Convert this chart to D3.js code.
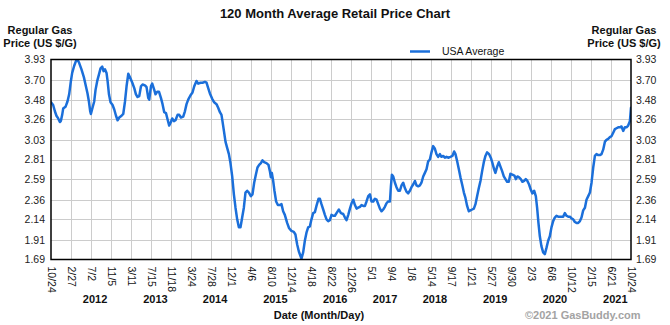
<!DOCTYPE html>
<html>
<head>
<meta charset="utf-8">
<script src="https://cdn.jsdelivr.net/npm/d3@7"></script>
<style>
  html, body { margin: 0; padding: 0; background: #fff; }
  svg { display: block; font-family: "Liberation Sans", Arial, sans-serif; }
</style>
</head>
<body>
<svg id="chart" width="670" height="325"></svg>
<script>
// ---------------- DATA ----------------
const chartTitle = "120 Month Average Retail Price Chart";
const seriesName = "USA Average";
const yAxisTitle = ["Regular Gas", "Price (US $/G)"];
const xAxisTitle = "Date (Month/Day)";
const credit = "\u00A92021 GasBuddy.com";

const yTickLabels = ["1.69","1.91","2.14","2.36","2.59","2.81","3.03","3.26","3.48","3.70","3.93"];
const xTickDates = ["2011-10-24","2012-02-27","2012-07-02","2012-11-05","2013-03-11","2013-07-15","2013-11-18",
  "2014-03-24","2014-07-28","2014-12-01","2015-04-06","2015-08-10","2015-12-14","2016-04-18","2016-08-22",
  "2016-12-26","2017-05-01","2017-09-04","2018-01-08","2018-05-14","2018-09-17","2019-01-21","2019-05-27",
  "2019-09-30","2020-02-03","2020-06-08","2020-10-12","2021-02-15","2021-06-21","2021-10-24"];
const yearLabels = ["2012","2013","2014","2015","2016","2017","2018","2019","2020","2021"];
const yearLabelAt = [2012.57,2013.61,2014.64,2015.68,2016.71,2017.57,2018.43,2019.47,2020.50,2021.54];

// time of each reading, as decimal year
const dataYears = [
2011.811,2011.848,2011.878,2011.905,2011.935,2011.964,2011.981,2012.004,2012.021,2012.061,
2012.095,2012.124,2012.154,2012.176,2012.211,2012.245,2012.267,2012.297,2012.336,2012.378,
2012.412,2012.440,2012.464,2012.486,2012.498,2012.526,2012.555,2012.578,2012.607,2012.636,
2012.664,2012.693,2012.716,2012.740,2012.767,2012.785,2012.809,2012.836,2012.871,2012.900,
2012.930,2012.957,2012.986,2013.026,2013.055,2013.085,2013.112,2013.142,2013.171,2013.211,
2013.245,2013.274,2013.302,2013.331,2013.361,2013.388,2013.430,2013.457,2013.486,2013.504,
2013.533,2013.555,2013.590,2013.612,2013.642,2013.671,2013.705,2013.733,2013.762,2013.792,
2013.819,2013.848,2013.878,2013.900,2013.930,2013.957,2013.992,2014.021,2014.050,2014.090,
2014.119,2014.147,2014.176,2014.216,2014.250,2014.280,2014.319,2014.348,2014.388,2014.423,
2014.464,2014.492,2014.521,2014.550,2014.590,2014.624,2014.664,2014.693,2014.723,2014.750,
2014.767,2014.792,2014.819,2014.848,2014.878,2014.905,2014.935,2014.964,2014.992,2015.021,
2015.050,2015.078,2015.107,2015.136,2015.164,2015.193,2015.223,2015.257,2015.285,2015.314,
2015.343,2015.371,2015.400,2015.430,2015.457,2015.486,2015.526,2015.561,2015.585,2015.602,
2015.619,2015.642,2015.664,2015.693,2015.723,2015.757,2015.785,2015.814,2015.843,2015.883,
2015.917,2015.957,2015.998,2016.026,2016.055,2016.085,2016.112,2016.130,2016.159,2016.188,
2016.216,2016.245,2016.274,2016.302,2016.331,2016.361,2016.388,2016.423,2016.447,2016.474,
2016.504,2016.533,2016.561,2016.590,2016.619,2016.647,2016.676,2016.705,2016.733,2016.774,
2016.809,2016.848,2016.878,2016.905,2016.935,2016.964,2016.992,2017.021,2017.050,2017.078,
2017.107,2017.136,2017.164,2017.193,2017.223,2017.250,2017.280,2017.309,2017.336,2017.366,
2017.395,2017.423,2017.452,2017.481,2017.509,2017.538,2017.567,2017.595,2017.624,2017.654,
2017.671,2017.688,2017.711,2017.740,2017.767,2017.797,2017.826,2017.854,2017.883,2017.912,
2017.940,2017.969,2017.998,2018.026,2018.055,2018.085,2018.112,2018.142,2018.171,2018.198,
2018.228,2018.257,2018.285,2018.314,2018.343,2018.371,2018.400,2018.430,2018.457,2018.486,
2018.516,2018.543,2018.573,2018.602,2018.630,2018.659,2018.698,2018.733,2018.762,2018.785,
2018.814,2018.843,2018.871,2018.900,2018.930,2018.957,2018.986,2019.016,2019.043,2019.073,
2019.102,2019.130,2019.159,2019.188,2019.216,2019.245,2019.274,2019.302,2019.331,2019.366,
2019.400,2019.423,2019.452,2019.474,2019.504,2019.533,2019.561,2019.590,2019.619,2019.647,
2019.676,2019.705,2019.733,2019.767,2019.802,2019.826,2019.854,2019.883,2019.912,2019.940,
2019.969,2019.998,2020.026,2020.055,2020.085,2020.112,2020.142,2020.171,2020.193,2020.216,
2020.240,2020.267,2020.297,2020.326,2020.354,2020.383,2020.412,2020.440,2020.469,2020.498,
2020.526,2020.555,2020.585,2020.612,2020.642,2020.671,2020.698,2020.728,2020.757,2020.785,
2020.814,2020.843,2020.871,2020.900,2020.930,2020.957,2020.986,2021.016,2021.043,2021.073,
2021.102,2021.130,2021.159,2021.188,2021.216,2021.245,2021.274,2021.302,2021.331,2021.361,
2021.388,2021.417,2021.447,2021.474,2021.504,2021.533,2021.561,2021.590,2021.619,2021.647,
2021.676,2021.705,2021.733,2021.762,2021.792,2021.811];

// USA average price, $/gal
const prices = [
3.45,3.42,3.35,3.30,3.27,3.23,3.24,3.31,3.38,3.40,
3.46,3.54,3.69,3.78,3.86,3.92,3.93,3.89,3.82,3.73,
3.63,3.55,3.46,3.35,3.32,3.39,3.46,3.59,3.69,3.76,
3.83,3.85,3.80,3.82,3.78,3.69,3.54,3.45,3.42,3.37,
3.30,3.25,3.28,3.30,3.32,3.46,3.63,3.77,3.73,3.67,
3.61,3.54,3.51,3.52,3.63,3.65,3.64,3.62,3.50,3.48,
3.63,3.66,3.59,3.54,3.57,3.57,3.50,3.43,3.34,3.33,
3.26,3.19,3.23,3.27,3.24,3.25,3.31,3.31,3.28,3.29,
3.35,3.43,3.48,3.53,3.56,3.63,3.69,3.66,3.67,3.67,
3.68,3.67,3.61,3.55,3.49,3.45,3.43,3.39,3.34,3.31,
3.24,3.13,3.01,2.94,2.87,2.77,2.62,2.42,2.27,2.14,
2.05,2.05,2.16,2.27,2.44,2.46,2.44,2.40,2.42,2.55,
2.64,2.72,2.75,2.77,2.80,2.78,2.77,2.75,2.68,2.61,
2.66,2.57,2.46,2.34,2.30,2.30,2.31,2.23,2.19,2.10,
2.04,2.01,2.00,1.97,1.86,1.78,1.73,1.70,1.77,1.90,
1.99,2.05,2.06,2.14,2.21,2.22,2.29,2.37,2.37,2.31,
2.25,2.19,2.14,2.12,2.13,2.19,2.18,2.18,2.21,2.25,
2.21,2.20,2.16,2.13,2.19,2.26,2.32,2.36,2.30,2.26,
2.27,2.28,2.30,2.29,2.29,2.34,2.40,2.42,2.34,2.34,
2.37,2.36,2.31,2.26,2.23,2.25,2.28,2.32,2.34,2.34,
2.51,2.64,2.62,2.55,2.50,2.46,2.46,2.52,2.55,2.49,
2.45,2.43,2.46,2.50,2.53,2.57,2.52,2.51,2.52,2.55,
2.62,2.66,2.70,2.79,2.81,2.89,2.96,2.93,2.87,2.84,
2.87,2.84,2.85,2.83,2.84,2.83,2.84,2.85,2.90,2.87,
2.79,2.70,2.61,2.53,2.44,2.38,2.29,2.23,2.24,2.25,
2.26,2.31,2.40,2.49,2.57,2.68,2.78,2.85,2.89,2.87,
2.82,2.77,2.70,2.66,2.73,2.78,2.73,2.68,2.62,2.59,
2.56,2.56,2.65,2.64,2.63,2.59,2.62,2.61,2.59,2.56,
2.57,2.59,2.57,2.53,2.47,2.43,2.46,2.40,2.27,2.10,
1.95,1.84,1.77,1.75,1.82,1.90,1.95,2.05,2.12,2.16,
2.18,2.17,2.17,2.17,2.17,2.21,2.18,2.17,2.17,2.15,
2.14,2.11,2.10,2.10,2.12,2.16,2.24,2.27,2.36,2.40,
2.44,2.55,2.72,2.85,2.87,2.86,2.86,2.87,2.92,3.01,
3.03,3.04,3.06,3.07,3.11,3.15,3.16,3.17,3.17,3.18,
3.13,3.17,3.17,3.19,3.24,3.39];

// ---------------- HELPERS ----------------
function decYearToDate(y) {
  const yr = Math.floor(y);
  const start = Date.UTC(yr, 0, 1), end = Date.UTC(yr + 1, 0, 1);
  return new Date(start + (y - yr) * (end - start));
}
const parseDate = d3.utcParse("%Y-%m-%d");
const tickDates = xTickDates.map(parseDate);
const fmtMD = d => (d.getUTCMonth() + 1) + "/" + d.getUTCDate();

// ---------------- LAYOUT ----------------
const svg = d3.select("#chart");
const L = 51, R = 631, T = 59.5, B = 259.5;
const FONT = "'Liberation Sans', Arial, sans-serif";

const x = d3.scaleUtc().domain([tickDates[0], tickDates[tickDates.length - 1]]).range([L, R]);
const yVals = yTickLabels.map(Number);
const y = d3.scaleLinear().domain([yVals[0], yVals[yVals.length - 1]]).range([B, T]);

// grid
const grid = svg.append("g").attr("stroke", "#cccccc").attr("stroke-width", 1).attr("shape-rendering", "crispEdges");
grid.selectAll(".vg").data(tickDates.slice(1, -1)).join("line")
  .attr("x1", d => Math.round(x(d)) + 0.5).attr("x2", d => Math.round(x(d)) + 0.5)
  .attr("y1", T).attr("y2", B);
grid.selectAll(".hg").data(yVals.slice(1, -1)).join("line")
  .attr("x1", L).attr("x2", R)
  .attr("y1", d => Math.round(y(d)) + 0.5).attr("y2", d => Math.round(y(d)) + 0.5);

// line
svg.append("clipPath").attr("id", "plotClip").append("rect")
  .attr("x", L).attr("y", T).attr("width", R - L).attr("height", B - T);
const pts = dataYears.map((t, i) => ({ date: decYearToDate(t), v: prices[i] }));
svg.append("path").datum(pts)
  .attr("clip-path", "url(#plotClip)")
  .attr("fill", "none").attr("stroke", "#1b6fda").attr("stroke-width", 2.5)
  .attr("stroke-linejoin", "round").attr("stroke-linecap", "round")
  .attr("d", d3.line().x(d => x(d.date)).y(d => y(d.v)));

// frame
svg.append("rect").attr("x", L).attr("y", T).attr("width", R - L).attr("height", B - T)
  .attr("fill", "none").attr("stroke", "#000").attr("stroke-width", 1.5);

// y axes
const yl = svg.append("g").attr("transform", `translate(${L},0)`)
  .call(d3.axisLeft(y).tickValues(yVals).tickFormat((d, i) => yTickLabels[i]).tickSize(0).tickPadding(6));
const yr = svg.append("g").attr("transform", `translate(${R},0)`)
  .call(d3.axisRight(y).tickValues(yVals).tickFormat((d, i) => yTickLabels[i]).tickSize(0).tickPadding(5));
[yl, yr].forEach(g => {
  g.select(".domain").remove();
  g.selectAll("text").attr("font-family", FONT).attr("font-size", "10.5px").attr("fill", "#222");
});

// x axis
const xa = svg.append("g").attr("transform", `translate(0,${B})`)
  .call(d3.axisBottom(x).tickValues(tickDates).tickFormat(fmtMD).tickSize(0));
xa.select(".domain").remove();
xa.selectAll("text")
  .attr("transform", "rotate(90)")
  .attr("x", 7).attr("y", 0).attr("dy", "0.35em")
  .style("text-anchor", "start")
  .attr("font-family", FONT).attr("font-size", "10.5px").attr("fill", "#111");

// year labels
svg.append("g").selectAll("text").data(yearLabels).join("text")
  .attr("x", (d, i) => x(decYearToDate(yearLabelAt[i])))
  .attr("y", 303)
  .attr("text-anchor", "middle")
  .attr("font-family", FONT).attr("font-size", "11px").attr("font-weight", "bold").attr("fill", "#111")
  .text(d => d);

// titles
svg.append("text").attr("x", 335).attr("y", 18).attr("text-anchor", "middle")
  .attr("font-family", FONT).attr("font-size", "13px").attr("font-weight", "bold").attr("fill", "#111")
  .text(chartTitle);

[40, 624].forEach(cx => {
  yAxisTitle.forEach((t, i) => {
    svg.append("text").attr("x", cx).attr("y", 34 + i * 13).attr("text-anchor", "middle")
      .attr("font-family", FONT).attr("font-size", "11px").attr("font-weight", "bold").attr("fill", "#111")
      .text(t);
  });
});

svg.append("text").attr("x", 319).attr("y", 319).attr("text-anchor", "middle")
  .attr("font-family", FONT).attr("font-size", "11px").attr("font-weight", "bold").attr("fill", "#111")
  .text(xAxisTitle);

svg.append("text").attr("x", 525).attr("y", 319).attr("text-anchor", "start")
  .attr("font-family", FONT).attr("font-size", "11px").attr("font-weight", "bold").attr("fill", "#a3a3a3")
  .text(credit);

// legend
const lg = svg.append("g");
lg.append("line").attr("x1", 410).attr("x2", 430).attr("y1", 51.5).attr("y2", 51.5)
  .attr("stroke", "#1b6fda").attr("stroke-width", 2.5);
lg.append("text").attr("x", 442).attr("y", 51.5).attr("dy", "0.35em")
  .attr("font-family", FONT).attr("font-size", "10.5px").attr("fill", "#111")
  .text(seriesName);
</script>
</body>
</html>
